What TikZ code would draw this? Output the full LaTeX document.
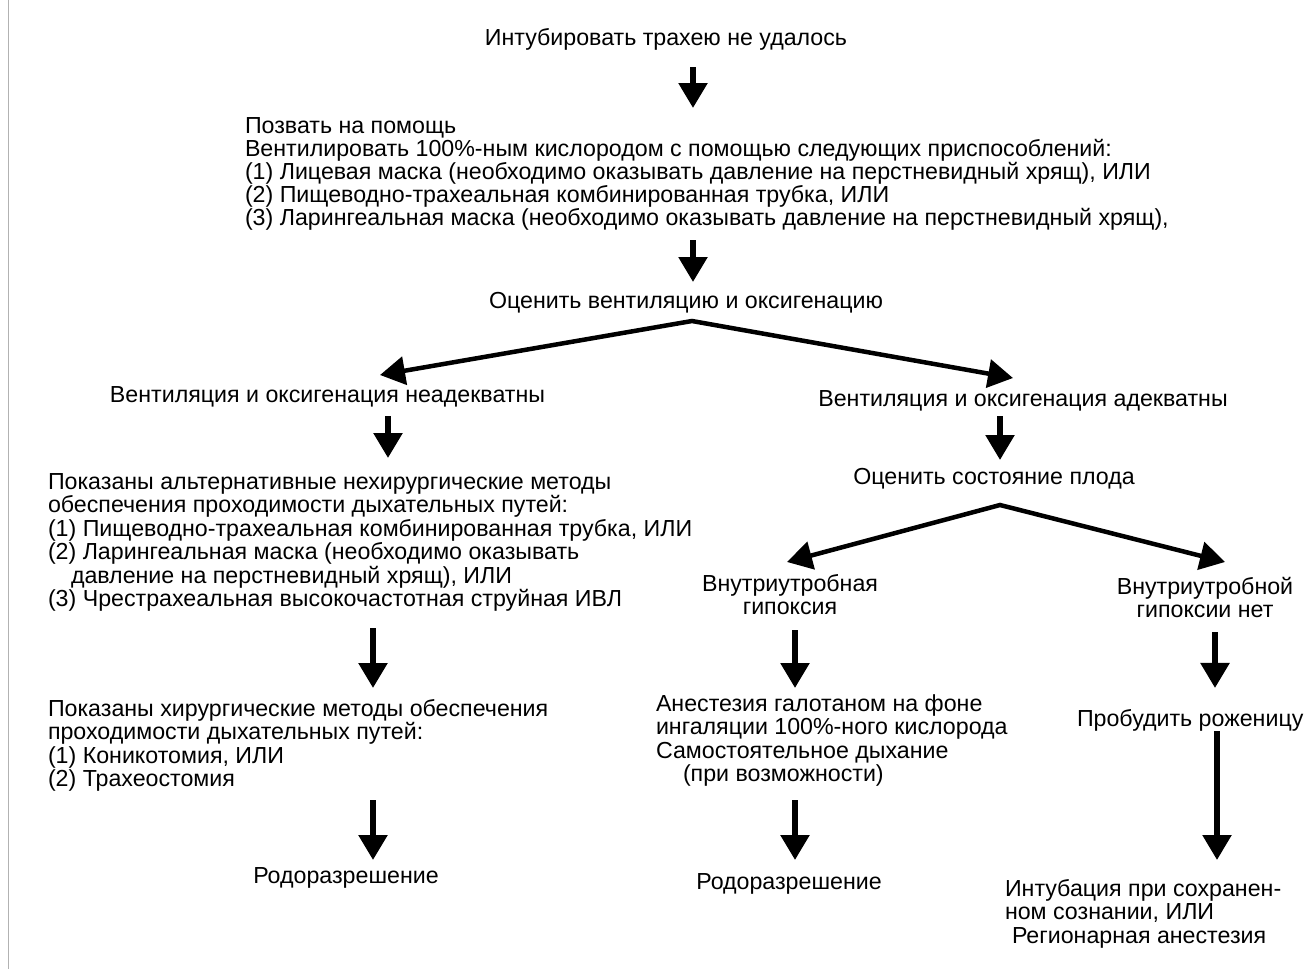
\documentclass[tikz,border=0pt]{standalone}
\usepackage{fontspec}
\setmainfont{Liberation Sans}
\usetikzlibrary{arrows.meta,calc}
\newcommand{\myup}{\rule{0pt}{17pt}}
\newcommand{\mydn}{\rule[-5pt]{0pt}{5pt}}
\begin{document}
\begin{tikzpicture}[x=1pt,y=-1pt,
  txt/.style={inner sep=0pt, outer sep=0pt, font=\fontsize{23.2}{23.5}\selectfont, align=left},
  arr/.style={line width=5.5pt, -{Triangle[width=28pt,length=25pt]}},
  fork/.style={line width=4.5pt, {Triangle[width=28pt,length=25pt]}-{Triangle[width=28pt,length=25pt]}, line join=miter}]
\fill[white] (0,0) rectangle (1316,969);
\useasboundingbox (0,0) rectangle (1316,969);
\draw[black!30, line width=1.5pt] (8.5,0) -- (8.5,969);

% nodes
\node[txt, anchor=base] (title) at (666,45) {\myup Интубировать трахею не удалось\mydn};
\node[txt, anchor=north west, font=\fontsize{23.2}{23}\selectfont] (help) at (245,116) {\myup Позвать на помощь\\
Вентилировать 100\%-ным кислородом с помощью следующих приспособлений:\\
(1) Лицевая маска (необходимо оказывать давление на перстневидный хрящ), ИЛИ\\
(2) Пищеводно-трахеальная комбинированная трубка, ИЛИ\\
(3) Ларингеальная маска (необходимо оказывать давление на перстневидный хрящ),\mydn};
\node[txt, anchor=base] (assess) at (686,308) {\myup Оценить вентиляцию и оксигенацию\mydn};
\node[txt, anchor=base] (inad) at (327.5,402) {\myup Вентиляция и оксигенация неадекватны\mydn};
\node[txt, anchor=base] (adeq) at (1023,406) {\myup Вентиляция и оксигенация адекватны\mydn};
\node[txt, anchor=north west] (nonsurg) at (48,472) {\myup Показаны альтернативные нехирургические методы\\
обеспечения проходимости дыхательных путей:\\
(1) Пищеводно-трахеальная комбинированная трубка, ИЛИ\\
(2) Ларингеальная маска (необходимо оказывать\\
\hspace*{23pt}давление на перстневидный хрящ), ИЛИ\\
(3) Чрестрахеальная высокочастотная струйная ИВЛ\mydn};
\node[txt, anchor=north west] (surg) at (48,699) {\myup Показаны хирургические методы обеспечения\\
проходимости дыхательных путей:\\
(1) Коникотомия, ИЛИ\\
(2) Трахеостомия\mydn};
\node[txt, anchor=base] (del1) at (346,883) {\myup Родоразрешение\mydn};
\node[txt, anchor=base] (fetal) at (994,484) {\myup Оценить состояние плода\mydn};
\node[txt, anchor=north, align=center] (hyp) at (790,574) {\myup Внутриутробная\\гипоксия\mydn};
\node[txt, anchor=north, align=center] (nohyp) at (1205,577) {\myup Внутриутробной\\гипоксии нет\mydn};
\node[txt, anchor=north west] (halo) at (656,694) {\myup Анестезия галотаном на фоне\\
ингаляции 100\%-ного кислорода\\
Самостоятельное дыхание\\
\hspace*{27pt}(при возможности)\mydn};
\node[txt, anchor=base] (del2) at (789,889) {\myup Родоразрешение\mydn};
\node[txt, anchor=base west] (wake) at (1077,726) {\myup Пробудить роженицу\mydn};
\node[txt, anchor=north west] (intub) at (1005,879) {\myup Интубация при сохранен-\\
ном сознании, ИЛИ\\
\hspace*{7pt}Регионарная анестезия\mydn};

% fork points
\coordinate (fork1) at ($(assess.south -| 692,0)+(0,8)$);
\coordinate (fork2) at ($(fetal.south -| 1000,0)+(0,16)$);

% connectors
\draw[arr] ($(title.south -| 693,0)+(0,17)$) -- ($(help.north -| 693,0)+(0,-8)$);
\draw[arr] ($(help.south -| 693,0)+(0,10)$) -- ($(assess.north -| 693,0)+(0,-9)$);
\draw[fork] ($(inad.north -| 380,0)+(0,-10)$) -- (fork1) -- ($(adeq.north -| 1013,0)+(0,-11)$);
\draw[arr] ($(inad.south -| 388,0)+(0,9)$) -- ($(nonsurg.north -| 388,0)+(0,-14)$);
\draw[arr] ($(adeq.south -| 1000,0)+(0,5)$) -- ($(fetal.north -| 1000,0)+(0,-7)$);
\draw[fork] ($(hyp.north -| 787,0)+(0,-12)$) -- (fork2) -- ($(nohyp.north -| 1225,0)+(0,-15)$);
\draw[arr] ($(nonsurg.south -| 373,0)+(0,16.5)$) -- ($(surg.north -| 373,0)+(0,-11)$);
\draw[arr] ($(surg.south -| 373,0)+(0,8.5)$) -- ($(del1.north -| 373,0)+(0,-6)$);
\draw[arr] ($(hyp.south -| 795,0)+(0,10.5)$) -- ($(halo.north -| 795,0)+(0,-6)$);
\draw[arr] ($(nohyp.south -| 1215,0)+(0,9.5)$) -- ($(wake.north -| 1215,0)+(0,-21)$);
\draw[arr] ($(halo.south -| 795,0)+(0,13.5)$) -- ($(del2.north -| 795,0)+(0,-12)$);
\draw[arr] (wake.south -| 1217,0) -- ($(intub.north -| 1217,0)+(0,-19)$);
\end{tikzpicture}
\end{document}
